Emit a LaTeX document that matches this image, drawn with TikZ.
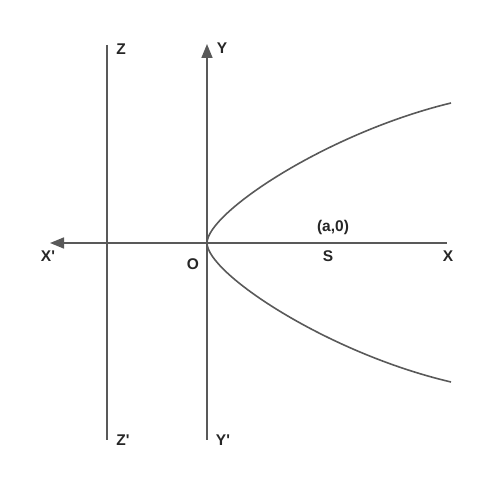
\documentclass[tikz,border=0pt]{standalone}
\usepackage{tikz}
\usepackage{fontspec}
\setmainfont{Liberation Sans}
\usetikzlibrary{calc}
\usetikzlibrary{arrows.meta,positioning}
\definecolor{axisgray}{rgb}{0.35,0.35,0.35}
\newcommand{\pr}{\textquotesingle}
\begin{document}
\begin{tikzpicture}[x=1pt,y=1pt,
    axis/.style={draw=axisgray,line width=1.6pt},
    tip/.style={-{Triangle[length=14pt,width=11pt]}},
    lbl/.style={text=black!85,font=\bfseries\fontsize{15.5}{18}\selectfont,inner sep=0pt}]
        \useasboundingbox (0,0) rectangle (494,495);
        % axes
        \coordinate (O) at (207,252);
        \coordinate (Ytop) at (207,451);
        \coordinate (Ybot) at (207,55);
        \coordinate (Xr) at (447,252);
        \coordinate (Xl) at (50,252);
        \coordinate (Ztop) at (107,450);
        \coordinate (Zbot) at (107,55);
        \draw[axis] (O) -- (Xr);
        \draw[axis,tip] (O) -- (Xl);
        \draw[axis,tip] (Ybot) -- (Ytop);
        \draw[axis] (Ztop) -- (Zbot);
        % parabola
        \coordinate (Pu) at (451,392);
        \coordinate (Pl) at (451,113);
        \draw[axis] (Pu) .. controls (327,362) and (207,282) .. (O)
                         .. controls (207,222) and (327,142) .. (Pl);
        % labels
        \node[lbl] (Zl)  at (121,446) {Z};
        \node[lbl] (Yl)  at (222,447) {Y};
        \node[lbl] (Xpl) at (48,239)  {X\pr};
        \node[lbl] (Ol)  at (193,231) {O};
        \node[lbl] (Sl)  at (328,239) {S};
        \node[lbl] (Xlb) at (448,239) {X};
        \node[lbl] (al)  at (333,268) {(a,0)};
        \node[lbl] (Zpl) at (123,55)  {Z\pr};
        \node[lbl] (Ypl) at (223,55)  {Y\pr};
      \end{tikzpicture}
\end{document}
